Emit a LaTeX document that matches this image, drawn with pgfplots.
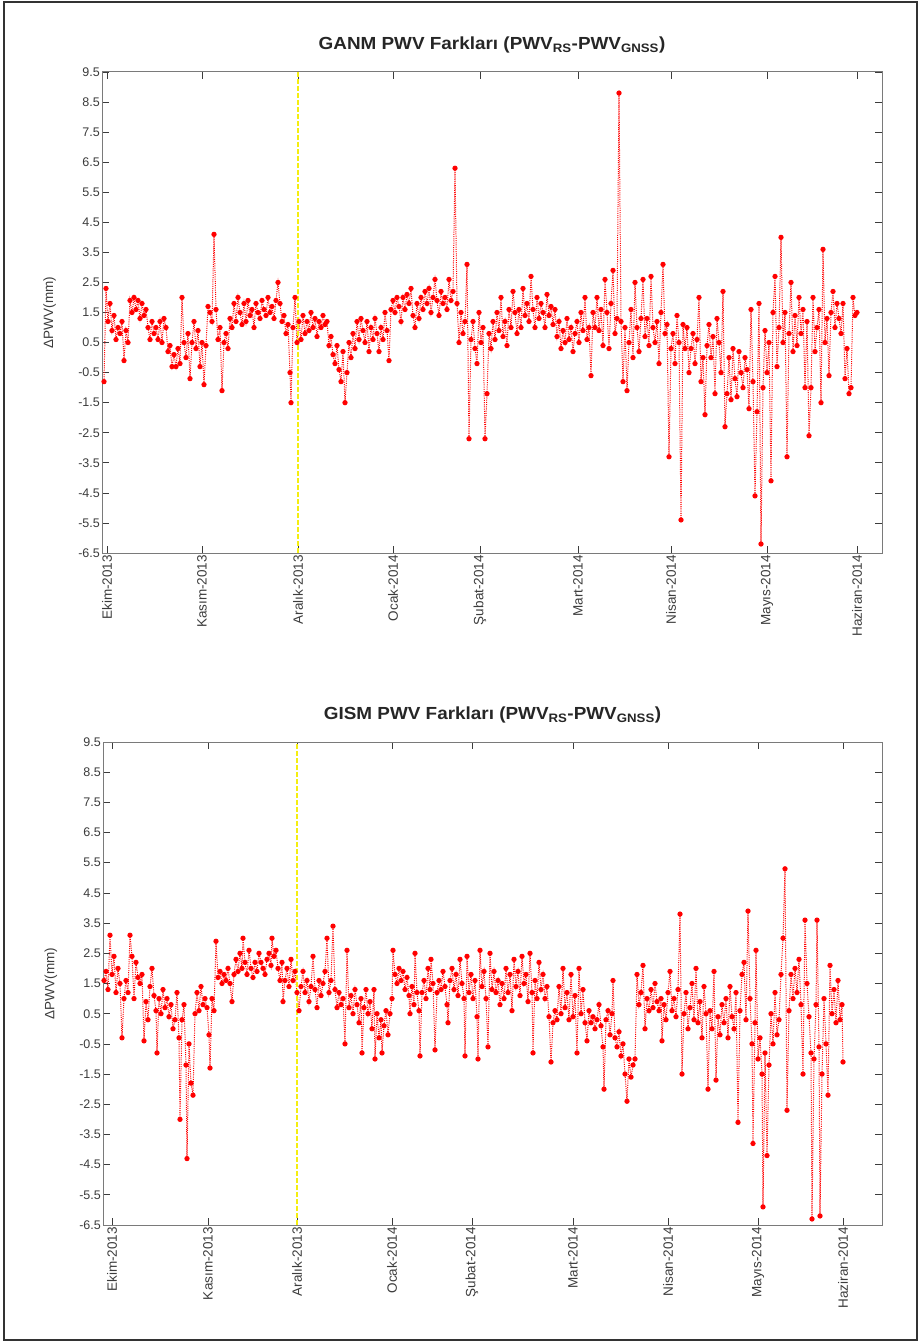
\documentclass[border=0pt]{standalone}
\usepackage{fontspec}
\setmainfont{Liberation Sans}
\newfontfamily\titlefont[FakeStretch=1.08]{Liberation Sans}
\usepackage{pgfplots}
\pgfplotsset{compat=1.18}
\definecolor{mred}{HTML}{FF0000}
\definecolor{myel}{HTML}{F5EE10}
\definecolor{axgray}{HTML}{7A7A7A}
\definecolor{txgray}{HTML}{3C3C3C}
\pgfplotsset{
  pwv/.style={
    scale only axis, anchor=south west,
    ymin=-6.5, ymax=9.5,
    ytick={-6.5,-5.5,-4.5,-3.5,-2.5,-1.5,-0.5,0.5,1.5,2.5,3.5,4.5,5.5,6.5,7.5,8.5,9.5},
    /pgf/number format/fixed, /pgf/number format/fixed zerofill,
    /pgf/number format/precision=1, /pgf/number format/assume math mode=true,
    yticklabel style={font=\fontsize{12.5}{13}\selectfont, text=txgray, inner sep=2pt},
    xticklabel style={rotate=90, anchor=east, font=\fontsize{13.5}{14}\selectfont, text=txgray, inner sep=2pt},
    axis line style={axgray, line width=1pt},
    major tick length=7pt,
    tick style={txgray, line width=0.7pt},
    tick align=inside,
    ylabel={ΔPWV(mm)},
    ylabel style={at={(axis description cs:-0.067,0.5)}, anchor=center,
      font=\fontsize{13.5}{14}\selectfont, text=txgray},
    title style={font=\titlefont\bfseries\fontsize{17.5}{19}\selectfont, text=black!85,
      at={(axis description cs:0.5,1)}, anchor=south, yshift=9pt},
  },
  series/.style={mred, line width=1pt, dash pattern=on 1pt off 1.2pt, mark=*, mark size=2.1pt,
    mark options={solid, fill=mred, draw=mred}},
  yline/.style={myel, line width=2pt, dash pattern=on 5pt off 2pt},
}
\begin{document}
\begin{tikzpicture}
\useasboundingbox (0pt,0pt) rectangle (921pt,-1343pt);
\draw[line width=1.2pt, black!80] (4pt,-2pt) rectangle (917pt,-1340pt);

% top panel: GANM
\begin{axis}[pwv, at={(102pt,-553pt)}, width=780pt, height=481pt,
    xmin=102, xmax=882,
    xtick={107,202,298,393,480,578,671,767,857},
    xticklabels={Ekim-2013,Kasım-2013,Aralık-2013,Ocak-2014,Şubat-2014,Mart-2014,Nisan-2014,Mayıs-2014,Haziran-2014},
    title={GANM PWV Farkları (PWV\textsubscript{RS}-PWV\textsubscript{GNSS})}]
\addplot[series] coordinates {
(104,-0.8) (106,2.3) (108,1.2) (110,1.8) (112,0.9) (114,1.4) (116,0.6) (118,1.0)
(120,0.8) (122,1.2) (124,-0.1) (126,0.9) (128,0.5) (130,1.9) (132,1.5) (134,2.0)
(136,1.6) (138,1.9) (140,1.3) (142,1.8) (144,1.4) (146,1.6) (148,1.0) (150,0.6)
(152,1.2) (154,0.8) (156,1.0) (158,0.6) (160,1.2) (162,0.5) (164,1.3) (166,1.0)
(168,0.2) (170,0.4) (172,-0.3) (174,0.1) (176,-0.3) (178,0.3) (180,-0.2) (182,2.0)
(184,0.5) (186,0.0) (188,0.8) (190,-0.7) (192,0.5) (194,1.2) (196,0.3) (198,0.9)
(200,-0.3) (202,0.5) (204,-0.9) (206,0.4) (208,1.7) (210,1.5) (212,1.2) (214,4.1)
(216,1.6) (218,0.6) (220,1.0) (222,-1.1) (224,0.5) (226,0.8) (228,0.3) (230,1.3)
(232,1.0) (234,1.8) (236,1.2) (238,2.0) (240,1.5) (242,1.1) (244,1.8) (246,1.2)
(248,1.9) (250,1.4) (252,1.6) (254,1.0) (256,1.8) (258,1.5) (260,1.3) (262,1.9)
(264,1.6) (266,1.4) (268,2.0) (270,1.5) (272,1.7) (274,1.3) (276,1.9) (278,2.5)
(280,1.8) (282,1.2) (284,1.4) (286,0.8) (288,1.1) (290,-0.5) (291,-1.5) (293,1.0)
(295,2.0) (297,0.5) (299,1.2) (301,0.6) (303,1.4) (305,0.8) (307,1.2) (309,0.9)
(311,1.5) (313,1.0) (315,1.3) (317,0.7) (319,1.2) (321,1.0) (323,1.4) (325,1.1)
(327,1.2) (329,0.4) (331,0.7) (333,0.1) (335,-0.2) (337,0.4) (339,-0.4) (341,-0.8)
(343,0.2) (345,-1.5) (347,-0.5) (349,0.5) (351,0.0) (353,0.8) (355,0.3) (357,1.2)
(359,0.6) (361,1.3) (363,0.9) (365,0.5) (367,1.2) (369,0.2) (371,1.0) (373,0.6)
(375,1.3) (377,0.8) (379,0.2) (381,1.0) (383,0.6) (385,1.5) (387,0.9) (389,-0.1)
(391,1.6) (393,1.9) (395,1.5) (397,2.0) (399,1.7) (401,1.2) (403,2.0) (405,1.6)
(407,2.1) (409,1.8) (411,2.3) (413,1.4) (415,1.0) (417,1.8) (419,1.3) (421,2.0)
(423,1.6) (425,2.2) (427,1.8) (429,2.3) (431,1.5) (433,2.0) (435,2.6) (437,1.9)
(439,1.4) (441,2.2) (443,1.8) (445,2.0) (447,1.6) (449,2.6) (451,1.9) (453,2.2)
(455,6.3) (457,1.8) (459,0.5) (461,1.5) (463,0.8) (465,1.2) (467,3.1) (469,-2.7)
(471,0.6) (473,1.2) (475,0.3) (477,-0.2) (479,1.5) (481,0.5) (483,1.0) (485,-2.7)
(487,-1.2) (489,0.8) (491,0.3) (493,1.2) (495,0.6) (497,1.5) (499,0.9) (501,2.0)
(503,0.7) (505,1.2) (507,0.4) (509,1.6) (511,1.0) (513,2.2) (515,1.5) (517,0.8)
(519,1.6) (521,1.0) (523,2.3) (525,1.4) (527,1.8) (529,1.2) (531,2.7) (533,1.6)
(535,1.0) (537,2.0) (539,1.3) (541,1.8) (543,1.5) (545,1.0) (547,2.1) (549,1.4)
(551,1.7) (553,1.1) (555,1.6) (557,0.7) (559,1.2) (561,0.3) (563,0.9) (565,0.5)
(567,1.3) (569,0.6) (571,1.0) (573,0.2) (575,0.8) (577,1.2) (579,0.5) (581,1.5)
(583,0.9) (585,2.0) (587,0.6) (589,1.0) (591,-0.6) (593,1.5) (595,1.0) (597,2.0)
(599,0.9) (601,1.6) (603,0.4) (605,2.6) (607,1.5) (609,0.3) (611,1.8) (613,2.9)
(615,0.8) (617,1.3) (619,8.8) (621,1.2) (623,-0.8) (625,1.0) (627,-1.1) (629,0.5)
(631,1.6) (633,0.0) (635,2.5) (637,1.0) (639,0.2) (641,1.3) (643,2.6) (645,0.7)
(647,1.3) (649,0.4) (651,2.7) (653,1.0) (655,0.5) (657,1.2) (659,-0.2) (661,1.5)
(663,3.1) (665,0.8) (667,1.1) (669,-3.3) (671,0.3) (673,0.8) (675,-0.2) (677,1.4)
(679,0.5) (681,-5.4) (683,1.1) (685,0.3) (687,1.0) (689,-0.5) (691,0.3) (693,0.8)
(695,-0.2) (697,0.6) (699,2.0) (701,-0.8) (703,0.0) (705,-1.9) (707,0.4) (709,1.1)
(711,0.0) (713,0.7) (715,-1.2) (717,1.3) (719,0.5) (721,-0.5) (723,2.2) (725,-2.3)
(727,-1.2) (729,0.0) (731,-1.4) (733,0.3) (735,-0.7) (737,-1.3) (739,0.2) (741,-0.5)
(743,-1.0) (745,0.0) (747,-0.4) (749,-1.7) (751,1.6) (753,-0.8) (755,-4.6) (757,-1.8)
(759,1.8) (761,-6.2) (763,-1.0) (765,0.9) (767,-0.5) (769,0.5) (771,-4.1) (773,1.5)
(775,2.7) (777,-0.3) (779,1.0) (781,4.0) (783,0.5) (785,1.5) (787,-3.3) (789,0.8)
(791,2.5) (793,0.2) (795,1.4) (797,0.4) (799,2.0) (801,0.8) (803,1.6) (805,-1.0)
(807,1.2) (809,-2.6) (811,-1.0) (813,2.0) (815,0.2) (817,1.0) (819,1.6) (821,-1.5)
(823,3.6) (825,0.5) (827,1.3) (829,-0.6) (831,1.5) (833,2.2) (835,1.0) (837,1.8)
(839,1.3) (841,0.8) (843,1.8) (845,-0.7) (847,0.3) (849,-1.2) (851,-1.0) (853,2.0)
(855,1.4) (857,1.5)
};
\addplot[yline] coordinates {(298,-6.5) (298,9.5)};
\end{axis}

% bottom panel: GISM
\begin{axis}[pwv, at={(103pt,-1225pt)}, width=779pt, height=483pt,
    xmin=103, xmax=882,
    xtick={112,208,297,392,472,573,668,758,843},
    xticklabels={Ekim-2013,Kasım-2013,Aralık-2013,Ocak-2014,Şubat-2014,Mart-2014,Nisan-2014,Mayıs-2014,Haziran-2014},
    title={GISM PWV Farkları (PWV\textsubscript{RS}-PWV\textsubscript{GNSS})}]
\addplot[series] coordinates {
(104,1.6) (106,1.9) (108,1.3) (110,3.1) (112,1.8) (114,2.4) (116,1.2) (118,2.0)
(120,1.5) (122,-0.3) (124,1.0) (126,1.6) (128,1.2) (130,3.1) (132,2.4) (134,1.0)
(136,2.2) (138,1.7) (140,1.5) (142,1.8) (144,-0.4) (146,0.9) (148,0.3) (150,1.4)
(152,2.0) (154,1.1) (156,0.6) (157,-0.8) (159,1.0) (161,0.5) (163,1.3) (165,0.7)
(167,1.0) (169,0.4) (171,0.8) (173,0.0) (175,0.3) (177,1.2) (179,-0.3) (180,-3.0)
(182,0.3) (184,0.8) (186,-1.2) (187,-4.3) (189,-0.5) (191,-1.8) (193,-2.2) (195,0.5)
(197,1.2) (199,0.6) (201,1.4) (203,0.8) (205,1.0) (207,0.7) (209,-0.2) (210,-1.3)
(212,1.0) (214,0.6) (216,2.9) (218,1.7) (220,1.9) (222,1.5) (224,1.8) (226,1.6)
(228,2.0) (230,1.5) (232,0.9) (234,1.8) (236,2.3) (238,1.9) (240,2.5) (242,2.0)
(243,3.0) (245,2.2) (247,1.8) (249,2.6) (251,2.0) (253,1.7) (255,2.2) (257,1.9)
(259,2.5) (261,2.2) (263,2.0) (265,1.8) (267,2.3) (269,2.5) (271,2.1) (272,3.0)
(274,2.4) (276,2.6) (278,2.0) (280,1.6) (282,2.2) (283,0.9) (285,1.6) (287,2.0)
(289,1.4) (291,2.3) (293,1.6) (295,1.9) (297,1.2) (299,0.6) (301,1.4) (303,1.9)
(305,1.2) (307,1.6) (309,0.9) (311,1.4) (313,2.4) (315,1.3) (317,0.7) (319,1.6)
(321,1.1) (323,1.5) (325,1.9) (327,3.0) (329,1.2) (331,1.6) (333,3.4) (335,1.3)
(337,0.7) (339,1.2) (341,0.8) (343,1.0) (345,-0.5) (347,2.6) (349,0.7) (351,1.1)
(353,0.5) (355,1.3) (357,0.8) (359,0.2) (361,1.0) (362,-0.8) (364,0.7) (366,1.3)
(368,0.5) (370,0.9) (372,0.0) (374,1.3) (375,-1.0) (377,0.5) (379,-0.3) (381,0.3)
(382,-0.8) (384,0.1) (386,0.6) (388,-0.2) (390,0.5) (392,1.0) (393,2.6) (395,1.8)
(397,1.5) (399,2.0) (401,1.6) (403,1.9) (405,1.3) (407,1.7) (409,1.1) (410,0.5)
(412,1.4) (414,0.8) (415,2.5) (417,1.2) (419,0.6) (420,-0.9) (422,1.2) (424,1.6)
(426,1.0) (428,2.0) (430,1.3) (431,2.3) (433,1.5) (435,-0.7) (437,1.2) (439,1.6)
(441,1.3) (443,1.9) (445,1.4) (447,0.8) (448,0.2) (450,1.6) (452,2.0) (454,1.3)
(456,1.8) (458,1.1) (460,2.3) (462,1.5) (464,1.0) (465,-0.9) (467,2.4) (469,1.2)
(471,1.8) (473,1.0) (475,1.6) (477,0.4) (478,-1.0) (480,2.6) (482,1.4) (484,1.9)
(486,1.0) (488,-0.6) (490,2.5) (492,1.3) (494,1.9) (496,1.2) (498,1.6) (500,0.8)
(502,1.5) (504,1.0) (506,2.0) (508,1.2) (510,1.8) (512,0.6) (514,2.3) (516,1.4)
(518,1.9) (520,1.1) (522,2.4) (524,1.5) (526,1.8) (528,0.9) (530,2.5) (532,1.2)
(533,-0.8) (535,1.6) (537,1.0) (539,2.2) (541,1.3) (543,1.8) (545,1.0) (547,1.4)
(549,0.4) (551,-1.1) (553,0.2) (555,0.6) (557,0.3) (559,1.4) (561,0.5) (563,2.0)
(565,0.7) (567,1.2) (569,0.3) (571,1.8) (573,0.4) (575,1.1) (577,-0.8) (579,2.0)
(581,0.5) (583,1.3) (585,0.2) (587,-0.4) (589,0.6) (591,0.2) (593,0.4) (595,0.0)
(597,0.3) (599,0.8) (601,0.1) (603,-0.6) (604,-2.0) (606,0.3) (608,0.6) (610,-0.2)
(612,0.5) (613,1.6) (615,-0.3) (617,-0.6) (619,-0.1) (621,-0.9) (623,-0.5) (625,-1.5)
(627,-2.4) (629,-1.0) (631,-1.6) (633,-1.2) (635,-1.0) (637,1.8) (639,0.8) (641,1.2)
(643,2.1) (645,0.0) (647,1.0) (649,0.6) (651,1.3) (653,0.7) (655,1.5) (657,0.9)
(659,0.6) (661,1.0) (662,-0.4) (664,0.8) (666,0.3) (668,1.2) (670,1.9) (672,0.6)
(674,1.0) (676,0.4) (678,1.3) (680,3.8) (682,-1.5) (684,0.5) (686,1.2) (688,0.0)
(690,0.7) (692,1.5) (694,0.3) (696,2.0) (698,0.2) (700,0.9) (702,-0.3) (704,1.4)
(706,0.5) (708,-2.0) (710,0.6) (712,0.0) (714,1.9) (716,-1.7) (718,0.4) (720,-0.2)
(722,0.8) (724,0.2) (726,1.0) (728,-0.3) (730,1.4) (732,0.4) (734,0.0) (736,1.2)
(738,-3.1) (740,0.6) (742,1.8) (744,2.2) (746,0.3) (748,3.9) (750,1.0) (752,-0.5)
(753,-3.8) (755,0.2) (756,2.6) (758,-1.0) (760,-0.3) (762,-1.5) (763,-5.9) (765,-0.8)
(767,-4.2) (769,-1.2) (771,0.5) (773,-0.5) (775,1.2) (777,-0.2) (779,0.3) (781,1.8)
(783,3.0) (785,5.3) (787,-2.7) (789,0.6) (791,1.8) (793,1.0) (795,2.0) (797,1.2)
(799,2.3) (801,0.8) (803,-1.5) (805,3.6) (807,1.5) (809,0.4) (811,-0.8) (812,-6.3)
(814,-1.0) (816,0.8) (817,3.6) (819,-0.6) (820,-6.2) (822,-1.5) (824,1.0) (826,-0.5)
(828,-2.2) (830,2.1) (832,0.5) (834,1.3) (836,0.2) (838,1.6) (840,0.3) (842,0.8)
(843,-1.1)
};
\addplot[yline] coordinates {(297,-6.5) (297,9.5)};
\end{axis}
\end{tikzpicture}
\end{document}
